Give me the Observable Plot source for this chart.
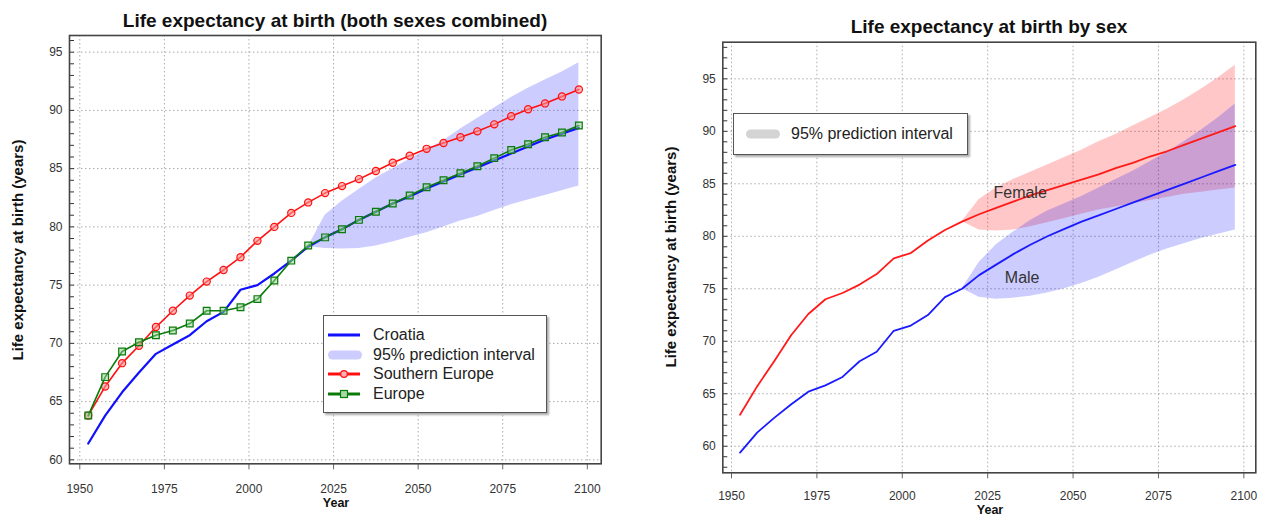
<!DOCTYPE html>
<html>
<head>
<meta charset="utf-8">
<script src="https://cdn.jsdelivr.net/npm/d3@7"></script>
<script src="https://cdn.jsdelivr.net/npm/@observablehq/plot@0.6"></script>
<style>
  html, body { margin: 0; padding: 0; background: #fff; }
  body { font-family: "Liberation Sans", Arial, Helvetica, sans-serif; }
  #wrap { position: relative; width: 1266px; height: 517px; overflow: hidden; }
  .abs { position: absolute; white-space: nowrap; }
  .title { font-weight: bold; font-size: 19px; color: #111; transform: translate(-50%, -50%); }
  .xlab { font-weight: bold; font-size: 12.5px; line-height: 1; color: #111; transform: translate(-50%, -50%); }
  .ylab { font-weight: bold; font-size: 15px; color: #111; transform: translate(-50%, -50%) rotate(-90deg); }
  .legend { background: #fff; border: 1.5px solid #555; box-shadow: 2px 2px 2px #aaa; box-sizing: border-box; }
  .legend .row { position: absolute; display: flex; align-items: center; transform: translateY(-50%); font-size: 16px; color: #222; }
  .legend svg { display: block; }
</style>
</head>
<body>
<div id="wrap">
  <div id="left" class="abs" style="left:0;top:0"></div>
  <div id="right" class="abs" style="left:640px;top:0"></div>
</div>
<script>
// ---------------- data ----------------
const years = [1952.5, 1957.5, 1962.5, 1967.5, 1972.5, 1977.5, 1982.5, 1987.5, 1992.5, 1997.5,
               2002.5, 2007.5, 2012.5, 2017.5, 2022.5, 2027.5, 2032.5, 2037.5, 2042.5, 2047.5,
               2052.5, 2057.5, 2062.5, 2067.5, 2072.5, 2077.5, 2082.5, 2087.5, 2092.5, 2097.5];
const croatia = [61.4, 63.8, 65.8, 67.5, 69.1, 69.9, 70.7, 71.9, 72.7, 74.6,
                 75.0, 76.0, 77.1, 78.3, 79.1, 79.8, 80.6, 81.3, 82.0, 82.6,
                 83.3, 83.9, 84.5, 85.1, 85.7, 86.3, 86.9, 87.5, 88.0, 88.5];
const southernEurope = [63.8, 66.3, 68.3, 69.8, 71.4, 72.8, 74.1, 75.3, 76.3, 77.4,
                        78.8, 80.0, 81.2, 82.1, 82.9, 83.5, 84.1, 84.8, 85.5, 86.1,
                        86.7, 87.2, 87.7, 88.2, 88.8, 89.5, 90.1, 90.6, 91.2, 91.8];
const europe = [63.8, 67.1, 69.3, 70.1, 70.7, 71.1, 71.7, 72.8, 72.8, 73.1,
                73.8, 75.4, 77.1, 78.4, 79.1, 79.8, 80.6, 81.3, 82.0, 82.7,
                83.4, 84.0, 84.6, 85.2, 85.9, 86.6, 87.1, 87.7, 88.1, 88.7];

const bandYears = [2017.5, 2022.5, 2027.5, 2032.5, 2037.5, 2042.5, 2047.5, 2052.5, 2057.5,
                   2062.5, 2067.5, 2072.5, 2077.5, 2082.5, 2087.5, 2092.5, 2097.5];
const croatiaLo = [78.3, 78.15, 78.1, 78.15, 78.35, 78.7, 79.1, 79.5, 80.0, 80.5, 80.9, 81.4, 81.9, 82.3, 82.7, 83.1, 83.5];
const croatiaHi = [78.3, 81.0, 82.2, 83.2, 84.2, 85.0, 85.8, 86.6, 87.4, 88.4, 89.3, 90.2, 91.1, 91.9, 92.6, 93.3, 94.1];

const female = [63.0, 65.7, 68.1, 70.6, 72.6, 74.0, 74.6, 75.4, 76.4, 77.9,
                78.4, 79.6, 80.6, 81.4, 82.1, 82.7, 83.3, 83.9, 84.4, 84.9,
                85.4, 85.9, 86.5, 87.0, 87.6, 88.1, 88.7, 89.3, 89.9, 90.5];
const male = [59.4, 61.3, 62.7, 64.0, 65.2, 65.8, 66.6, 68.1, 69.0, 71.0,
              71.5, 72.5, 74.2, 75.0, 76.3, 77.3, 78.3, 79.2, 80.0, 80.7,
              81.4, 82.0, 82.6, 83.2, 83.8, 84.4, 85.0, 85.6, 86.2, 86.8];
const femaleLo = [81.4, 80.6, 80.5, 80.6, 80.9, 81.3, 81.7, 82.1, 82.5, 82.8, 83.1, 83.4, 83.7, 84.0, 84.2, 84.4, 84.6];
const femaleHi = [81.4, 83.5, 84.6, 85.4, 86.1, 86.8, 87.5, 88.2, 89.0, 89.7, 90.5, 91.3, 92.1, 93.0, 94.0, 95.1, 96.3];
const maleLo = [75.0, 74.2, 74.0, 74.1, 74.3, 74.6, 75.0, 75.5, 76.1, 76.8, 77.5, 78.2, 78.8, 79.3, 79.8, 80.2, 80.6];
const maleHi = [75.0, 77.5, 79.2, 80.4, 81.5, 82.4, 83.1, 83.8, 84.6, 85.4, 86.2, 87.1, 88.0, 89.0, 90.1, 91.3, 92.6];

const sexLabels = ["Female", "Male"];
const sexLabelYears = [2034.5, 2035.1];
const sexLabelValues = [84.1, 76.0];

const xTicks = [1950, 1975, 2000, 2025, 2050, 2075, 2100];
const yTicks = [60, 65, 70, 75, 80, 85, 90, 95];
const yMinorLeft = [60, 61, 62, 63, 64, 65, 66, 67, 68, 69, 70, 71, 72, 73, 74, 75, 76, 77, 78, 79, 80,
                    81, 82, 83, 84, 85, 86, 87, 88, 89, 90, 91, 92, 93, 94, 95, 96];
const yMinorRight = [58, 59, 60, 61, 62, 63, 64, 65, 66, 67, 68, 69, 70, 71, 72, 73, 74, 75, 76, 77, 78, 79, 80,
                     81, 82, 83, 84, 85, 86, 87, 88, 89, 90, 91, 92, 93, 94, 95, 96, 97, 98];

const titles = ["Life expectancy at birth (both sexes combined)", "Life expectancy at birth by sex"];
const yLabel = "Life expectancy at birth (years)";
const xLabel = "Year";
const leftLegend = ["Croatia", "95% prediction interval", "Southern Europe", "Europe"];
const rightLegend = ["95% prediction interval"];

// ---------------- tables ----------------
const series = (vals) => years.map((year, i) => ({year, value: vals[i]}));
const band = (lo, hi) => bandYears.map((year, i) => ({year, lo: lo[i], hi: hi[i]}));
const croatiaT = series(croatia), southT = series(southernEurope), europeT = series(europe);
const femaleT = series(female), maleT = series(male);
const croatiaB = band(croatiaLo, croatiaHi), femaleB = band(femaleLo, femaleHi), maleB = band(maleLo, maleHi);
const labelT = sexLabels.map((label, i) => ({label, year: sexLabelYears[i], value: sexLabelValues[i]}));

const FONT = '"Liberation Sans", Arial, Helvetica, sans-serif';

function grids() {
  return [
    Plot.gridX(xTicks, {stroke: "#aaa", strokeOpacity: 1, strokeDasharray: "1.5,2.5", strokeWidth: 1}),
    Plot.gridY(yTicks, {stroke: "#aaa", strokeOpacity: 1, strokeDasharray: "1.5,2.5", strokeWidth: 1}),
  ];
}
function axesOnTop(yMinor, frameWidth, pad) {
  return [
    Plot.axisX(xTicks, {tickSize: 6, tickPadding: pad, tickFormat: "d", fontSize: 12, fill: "#333", stroke: "#666", label: null}),
    // inward minor/major ticks along the left edge
    Plot.tickY(yMinor, {y: (d) => d, stroke: "#333", strokeWidth: 1, insetRight: frameWidth - 5}),
    Plot.axisY(yTicks, {tickSize: 0, tickPadding: 7, fontSize: 12, fill: "#333", label: null}),
    Plot.frame({stroke: "#444", strokeWidth: 1.6})
  ];
}

const left = Plot.plot({
  width: 620, height: 517,
  marginLeft: 69, marginRight: 19.3, marginTop: 35, marginBottom: 53.7,
  style: {fontFamily: FONT, background: "transparent"},
  x: {domain: [1946.96, 2104.1]},
  y: {domain: [59.66, 96.43]},
  marks: [
    ...grids(),
    Plot.areaY(croatiaB, {x: "year", y1: "lo", y2: "hi", fill: "#0000ff", fillOpacity: 0.2}),
    Plot.line(croatiaT, {x: "year", y: "value", stroke: "#1010ff", strokeWidth: 2.2}),
    Plot.line(southT, {x: "year", y: "value", stroke: "#ff1010", strokeWidth: 1.6}),
    Plot.dot(southT, {x: "year", y: "value", r: 3.6, stroke: "#ff1010", fill: "#ff9090", fillOpacity: 0.6, strokeWidth: 1.2}),
    Plot.line(europeT, {x: "year", y: "value", stroke: "#0a7a0a", strokeWidth: 1.6}),
    Plot.dot(europeT, {x: "year", y: "value", r: 3.8, symbol: "square", stroke: "#0a7a0a", fill: "#8fd08f", fillOpacity: 0.5, strokeWidth: 1.2}),
    ...axesOnTop(yMinorLeft, 620 - 69 - 19.3, 14.5)
  ]
});
document.getElementById("left").appendChild(left);

const right = Plot.plot({
  width: 626, height: 517,
  marginLeft: 82.3, marginRight: 10.7, marginTop: 41.7, marginBottom: 44.7,
  style: {fontFamily: FONT, background: "transparent"},
  x: {domain: [1947.45, 2103.5]},
  y: {domain: [57.47, 98.49]},
  marks: [
    ...grids(),
    Plot.areaY(femaleB, {x: "year", y1: "lo", y2: "hi", fill: "#ff0000", fillOpacity: 0.22}),
    Plot.areaY(maleB, {x: "year", y1: "lo", y2: "hi", fill: "#0000ff", fillOpacity: 0.2}),
    Plot.line(femaleT, {x: "year", y: "value", stroke: "#ff1a1a", strokeWidth: 1.8}),
    Plot.line(maleT, {x: "year", y: "value", stroke: "#1a1aff", strokeWidth: 1.8}),
    Plot.text(labelT, {x: "year", y: "value", text: "label", fontSize: 16, fill: "#333"}),
    ...axesOnTop(yMinorRight, 626 - 82.3 - 10.7, 12.5)
  ]
});
document.getElementById("right").appendChild(right);

// ---------------- titles, labels, legends ----------------
const wrap = document.getElementById("wrap");
function addText(cls, text, x, y) {
  const d = document.createElement("div");
  d.className = "abs " + cls;
  d.textContent = text;
  d.style.left = x + "px";
  d.style.top = y + "px";
  wrap.appendChild(d);
}
addText("title", titles[0], 335, 21);
addText("title", titles[1], 989, 27);
addText("xlab", xLabel, 336, 503);
addText("xlab", xLabel, 990, 510);
addText("ylab", yLabel, 17, 250);
addText("ylab", yLabel, 670, 257);

const swatches = {
  line: (c) => `<svg width="34" height="12"><line x1="1" x2="33" y1="6" y2="6" stroke="${c}" stroke-width="3"/></svg>`,
  band: (c) => `<svg width="36" height="12"><rect x="1" y="1.5" width="34" height="9" rx="4.5" fill="${c}"/></svg>`,
  circle: (c, f) => `<svg width="34" height="12"><line x1="1" x2="33" y1="6" y2="6" stroke="${c}" stroke-width="3"/><circle cx="17" cy="6" r="3.3" stroke="${c}" stroke-width="1.2" fill="${f}"/></svg>`,
  square: (c, f) => `<svg width="34" height="12"><line x1="1" x2="33" y1="6" y2="6" stroke="${c}" stroke-width="3"/><rect x="13.5" y="2.5" width="7" height="7" stroke="${c}" stroke-width="1.2" fill="${f}"/></svg>`
};
function legend(x, y, w, h, rows) {
  const box = document.createElement("div");
  box.className = "abs legend";
  Object.assign(box.style, {left: x + "px", top: y + "px", width: w + "px", height: h + "px"});
  rows.forEach(r => {
    const row = document.createElement("div");
    row.className = "row";
    row.style.left = r.sx + "px";
    row.style.top = r.y + "px";
    row.innerHTML = r.sw + `<span style="margin-left:${r.gap}px">${r.text}</span>`;
    box.appendChild(row);
  });
  wrap.appendChild(box);
}
legend(323, 315, 224, 98, [
  {y: 19, sx: 3, gap: 12, text: leftLegend[0], sw: swatches.line("#1010ff")},
  {y: 38.5, sx: 3, gap: 10, text: leftLegend[1], sw: swatches.band("#ccccff")},
  {y: 58, sx: 3, gap: 12, text: leftLegend[2], sw: swatches.circle("#ff1010", "#ffb0b0")},
  {y: 78, sx: 3, gap: 12, text: leftLegend[3], sw: swatches.square("#0a7a0a", "#a8d8a8")}
]);
legend(733, 113, 235, 42, [
  {y: 20, sx: 11, gap: 10, text: rightLegend[0], sw: swatches.band("#d4d4d4")}
]);
</script>
</body>
</html>
